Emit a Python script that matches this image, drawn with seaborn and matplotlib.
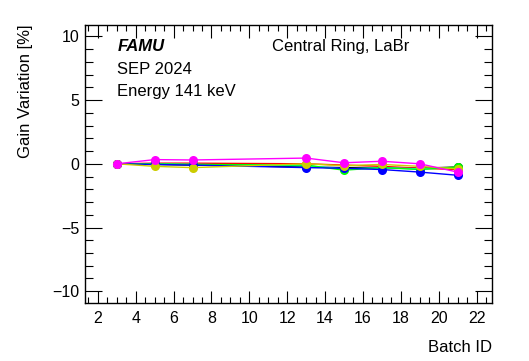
import numpy as np
import pandas as pd
import matplotlib.pyplot as plt
import seaborn as sns
from matplotlib.ticker import MultipleLocator

batch_id = [3, 5, 7, 13, 15, 17, 19, 21]
ch_black = [0.0, -0.05, -0.1, -0.25, -0.3, -0.3, -0.35, -0.25]
ch_red = [0.0, 0.05, 0.05, 0.0, -0.1, -0.2, -0.35, -0.45]
ch_cyan = [0.0, 0.0, -0.05, -0.15, -0.4, -0.3, -0.4, -0.3]
ch_green = [0.0, 0.0, -0.05, -0.1, -0.5, -0.3, -0.45, -0.25]
ch_blue = [0.0, -0.05, -0.1, -0.3, -0.35, -0.45, -0.65, -0.9]
ch_yellow = [0.0, -0.2, -0.3, 0.0, -0.15, -0.05, -0.2, -0.4]
ch_magenta = [0.0, 0.33, 0.3, 0.45, 0.08, 0.2, 0.0, -0.65]

series = {"black": ch_black, "red": ch_red, "cyan": ch_cyan, "green": ch_green,
          "blue": ch_blue, "yellow": ch_yellow, "magenta": ch_magenta}
colors = {"black": "#000000", "red": "#ff0000", "cyan": "#00ffff", "green": "#00ff00",
          "blue": "#0000ff", "yellow": "#cccc00", "magenta": "#ff00ff"}

df = pd.concat([pd.DataFrame({"batch": batch_id, "gain": v, "ch": k})
                for k, v in series.items()], ignore_index=True)

sns.set_theme(style="ticks")
plt.rcParams["font.family"] = ["Liberation Sans", "DejaVu Sans"]
plt.rcParams["text.color"] = "black"
plt.rcParams["axes.labelcolor"] = "black"

fig = plt.figure(figsize=(5.29, 3.61), dpi=100)
ax = fig.add_axes([0.160, 0.1615, 0.7695, 0.7695])

sns.lineplot(data=df, x="batch", y="gain", hue="ch", palette=colors,
             marker="o", markersize=6.5, markeredgewidth=0, linewidth=1,
             legend=False, ax=ax, sort=False)

ax.set_xlim(1.3, 22.8)
ax.set_ylim(-10.9, 10.9)
ax.xaxis.set_major_locator(MultipleLocator(2))
ax.xaxis.set_minor_locator(MultipleLocator(0.5))
ax.yaxis.set_major_locator(MultipleLocator(5))
ax.yaxis.set_minor_locator(MultipleLocator(1))
ax.tick_params(which="both", direction="in", top=True, right=True,
               labelsize=11.5, colors="black", width=0.8)
ax.tick_params(axis="x", which="major", length=9, pad=6)
ax.tick_params(axis="x", which="minor", length=4.5)
ax.tick_params(axis="y", which="major", length=12, pad=4)
ax.tick_params(axis="y", which="minor", length=6)
for s in ax.spines.values():
    s.set_linewidth(1)
    s.set_color("black")

ax.set_xlabel("Batch ID", fontsize=12, loc="right", labelpad=10)
ax.set_ylabel("Gain Variation [%]", fontsize=12, loc="top", labelpad=14)

ax.text(0.08, 0.905, "FAMU", transform=ax.transAxes, fontsize=12,
        fontweight="bold", fontstyle="italic")
ax.text(0.08, 0.825, "SEP 2024", transform=ax.transAxes, fontsize=12)
ax.text(0.08, 0.745, "Energy 141 keV", transform=ax.transAxes, fontsize=12)
ax.text(0.46, 0.905, "Central Ring, LaBr", transform=ax.transAxes, fontsize=12)

fig.savefig("out.png", dpi=100)
